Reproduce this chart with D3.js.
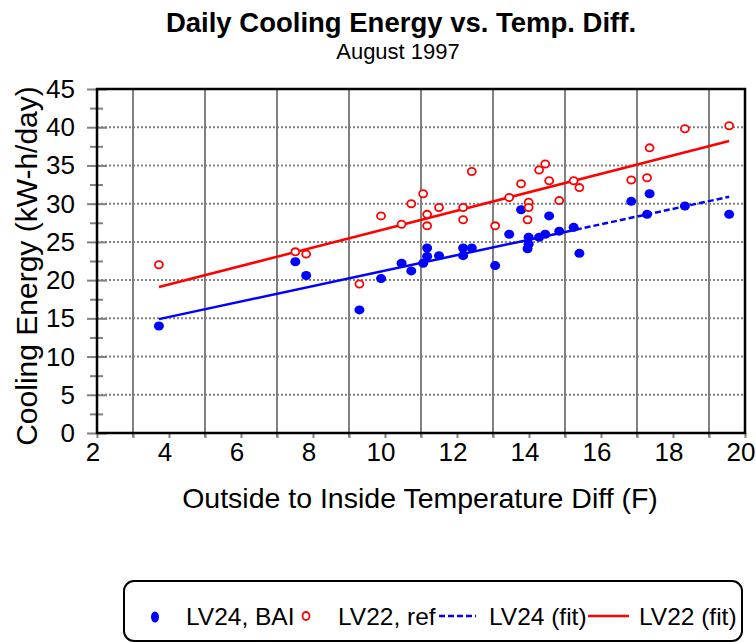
<!DOCTYPE html>
<html lang="en">
   <head>
      <meta charset="utf-8">
      <title>Daily Cooling Energy vs. Temp. Diff.</title>
      <script src="https://cdn.jsdelivr.net/npm/d3@7"></script>
      <style>
         body { margin: 0; background: white; }
         text { font-family: "Liberation Sans", Arial, sans-serif; fill: black; }
         .title { font-weight: bold; font-size: 27.5px; text-anchor: middle; }
         .subtitle { font-size: 22px; text-anchor: middle; }
         .tick-label { font-size: 26px; }
         .axis-title { font-size: 28.5px; text-anchor: middle; }
         .legend text { font-size: 24.5px; }
      </style>
   </head>
   <body>
      <svg width="756" height="642"></svg>

      <script>
         // temperature difference (F) for each day of August 1997
         var tempDiff = [3.72, 7.51, 7.81, 9.29, 9.89, 10.46, 10.73, 11.06, 11.17, 11.17,
                         11.5, 12.17, 12.17, 12.41, 13.06, 13.45, 13.78, 13.99, 13.99, 13.96,
                         14.28, 14.45, 14.56, 14.84, 15.24, 15.4, 16.84, 17.28, 17.35, 18.33, 19.56];
         // daily cooling energy (kW-h/day)
         var lv24Bai = [14.0, 22.4, 20.6, 16.1, 20.2, 22.2, 21.2, 22.2, 24.2, 23.1,
                        23.2, 23.2, 24.2, 24.2, 21.9, 26.0, 29.2, 25.6, 24.7, 24.1,
                        25.6, 26.0, 28.4, 26.4, 26.9, 23.5, 30.3, 28.6, 31.3, 29.7, 28.6];
         var lv22Ref = [22.0, 23.7, 23.4, 19.5, 28.4, 27.3, 30.0, 31.3, 28.6, 27.1,
                        29.5, 29.5, 27.9, 34.2, 27.1, 30.8, 32.6, 30.2, 29.5, 27.9,
                        34.4, 35.2, 33.0, 30.4, 33.0, 32.1, 33.1, 33.4, 37.3, 39.8, 40.2];
         // fitted lines
         var fitX = [3.72, 15.3, 19.56];
         var lv24Fit = [14.9, 26.6, 30.9];
         var lv22Fit = [19.1, 33.1, 38.2];

         var xTicks = [2, 4, 6, 8, 10, 12, 14, 16, 18, 20];
         var yTicks = [0, 5, 10, 15, 20, 25, 30, 35, 40, 45];
         var legendLabels = ["LV24, BAI", "LV22, ref", "LV24 (fit)", "LV22 (fit)"];

         var mySVG = d3.select("svg");
         var pLeft = 97, pRight = 745, pTop = 89, pBottom = 433;

         var x = d3.scaleLinear().domain([2, 20]).range([pLeft, pRight]);
         var y = d3.scaleLinear().domain([0, 45]).range([pBottom, pTop]);

         var grey = "#808080";

         // vertical grid lines at odd values
         mySVG.append("g").selectAll("line")
            .data(d3.range(3, 20, 2))
            .enter().append("line")
            .attr("x1", function(d) { return x(d); })
            .attr("x2", function(d) { return x(d); })
            .attr("y1", pTop).attr("y2", pBottom + 4)
            .attr("stroke", grey).attr("stroke-width", 2);

         // dotted horizontal grid lines
         mySVG.append("g").selectAll("line")
            .data(yTicks.slice(1, -1))
            .enter().append("line")
            .attr("x1", pLeft).attr("x2", pRight)
            .attr("y1", function(d) { return y(d); })
            .attr("y2", function(d) { return y(d); })
            .attr("stroke", grey).attr("stroke-width", 2)
            .attr("stroke-dasharray", "2,2");

         // x axis: small ticks at every unit, labels at even values
         var gx = mySVG.append("g")
            .attr("transform", "translate(0," + pBottom + ")")
            .call(d3.axisBottom(x).ticks(18).tickSize(5).tickFormat(""));
         gx.select(".domain").remove();
         gx.selectAll(".tick line").attr("stroke", grey).attr("stroke-width", 2);

         mySVG.append("g").selectAll("text")
            .data(xTicks)
            .enter().append("text")
            .attr("class", "tick-label")
            .attr("x", function(d) { return x(d) - 4; })
            .attr("y", 461)
            .attr("text-anchor", "middle")
            .text(function(d) { return d; });

         // y axis: major ticks every 5, minor every 2.5
         var gy = mySVG.append("g")
            .attr("transform", "translate(" + (pLeft + 10) + ",0)")
            .call(d3.axisLeft(y).tickValues(yTicks).tickSize(20).tickFormat(""));
         gy.select(".domain").remove();
         gy.selectAll(".tick line").attr("stroke", grey).attr("stroke-width", 2);

         var gyMinor = mySVG.append("g")
            .attr("transform", "translate(" + (pLeft + 6) + ",0)")
            .call(d3.axisLeft(y).tickValues(d3.range(2.5, 45, 5)).tickSize(13).tickFormat(""));
         gyMinor.select(".domain").remove();
         gyMinor.selectAll(".tick line").attr("stroke", grey).attr("stroke-width", 2);

         mySVG.append("g").selectAll("text")
            .data(yTicks)
            .enter().append("text")
            .attr("class", "tick-label")
            .attr("x", 75)
            .attr("y", function(d) { return y(d) + 9; })
            .attr("text-anchor", "end")
            .text(function(d) { return d; });

         // frame
         mySVG.append("rect")
            .attr("x", pLeft).attr("y", pTop)
            .attr("width", pRight - pLeft).attr("height", pBottom - pTop)
            .attr("fill", "none").attr("stroke", "black").attr("stroke-width", 2.5);

         // fit lines
         var fitLine = d3.line()
            .x(function(d) { return x(d[0]); })
            .y(function(d) { return y(d[1]); });

         mySVG.append("path")
            .attr("d", fitLine([[fitX[0], lv22Fit[0]], [fitX[2], lv22Fit[2]]]))
            .attr("fill", "none").attr("stroke", "red").attr("stroke-width", 2.5);

         mySVG.append("path")
            .attr("d", fitLine([[fitX[0], lv24Fit[0]], [fitX[1], lv24Fit[1]]]))
            .attr("fill", "none").attr("stroke", "blue").attr("stroke-width", 2.5);

         mySVG.append("path")
            .attr("d", fitLine([[fitX[1], lv24Fit[1]], [fitX[2], lv24Fit[2]]]))
            .attr("fill", "none").attr("stroke", "blue").attr("stroke-width", 2.5)
            .attr("stroke-dasharray", "6,3");

         // data points
         mySVG.append("g").selectAll("ellipse")
            .data(tempDiff)
            .enter().append("ellipse")
            .attr("cx", function(d) { return x(d); })
            .attr("cy", function(d, i) { return y(lv24Bai[i]); })
            .attr("rx", 5).attr("ry", 4.5)
            .attr("fill", "blue");

         mySVG.append("g").selectAll("ellipse")
            .data(tempDiff)
            .enter().append("ellipse")
            .attr("cx", function(d) { return x(d); })
            .attr("cy", function(d, i) { return y(lv22Ref[i]); })
            .attr("rx", 4).attr("ry", 3.6)
            .attr("fill", "white").attr("stroke", "red").attr("stroke-width", 1.8);

         // titles
         mySVG.append("text").attr("class", "title")
            .attr("x", 401).attr("y", 32)
            .text("Daily Cooling Energy vs. Temp. Diff.");
         mySVG.append("text").attr("class", "subtitle")
            .attr("x", 398).attr("y", 59)
            .text("August 1997");
         mySVG.append("text").attr("class", "axis-title")
            .attr("x", 420).attr("y", 508)
            .text("Outside to Inside Temperature Diff (F)");
         mySVG.append("text").attr("class", "axis-title")
            .attr("transform", "translate(37,266) rotate(-90)")
            .style("font-size", "30px")
            .text("Cooling Energy (kW-h/day)");

         // legend
         var legend = mySVG.append("g").attr("class", "legend");
         legend.append("rect")
            .attr("x", 124).attr("y", 581)
            .attr("width", 618).attr("height", 60)
            .attr("rx", 10).attr("ry", 10)
            .attr("fill", "white").attr("stroke", "black").attr("stroke-width", 2);

         var ly = 617;
         legend.append("ellipse")
            .attr("cx", 155).attr("cy", ly).attr("rx", 4).attr("ry", 5.5)
            .attr("fill", "blue");
         legend.append("ellipse")
            .attr("cx", 306).attr("cy", ly - 1).attr("rx", 3.5).attr("ry", 4)
            .attr("fill", "white").attr("stroke", "red").attr("stroke-width", 1.8);
         legend.append("line")
            .attr("x1", 439).attr("x2", 476).attr("y1", ly - 1).attr("y2", ly - 1)
            .attr("stroke", "blue").attr("stroke-width", 2.5).attr("stroke-dasharray", "6,3");
         legend.append("line")
            .attr("x1", 588).attr("x2", 629).attr("y1", ly - 1).attr("y2", ly - 1)
            .attr("stroke", "red").attr("stroke-width", 2.5);

         var labelX = [186, 338, 489, 639];
         legend.selectAll("text.item")
            .data(legendLabels)
            .enter().append("text")
            .attr("class", "item")
            .attr("x", function(d, i) { return labelX[i]; })
            .attr("y", ly + 8)
            .text(function(d) { return d; });
      </script>
   </body>
</html>
